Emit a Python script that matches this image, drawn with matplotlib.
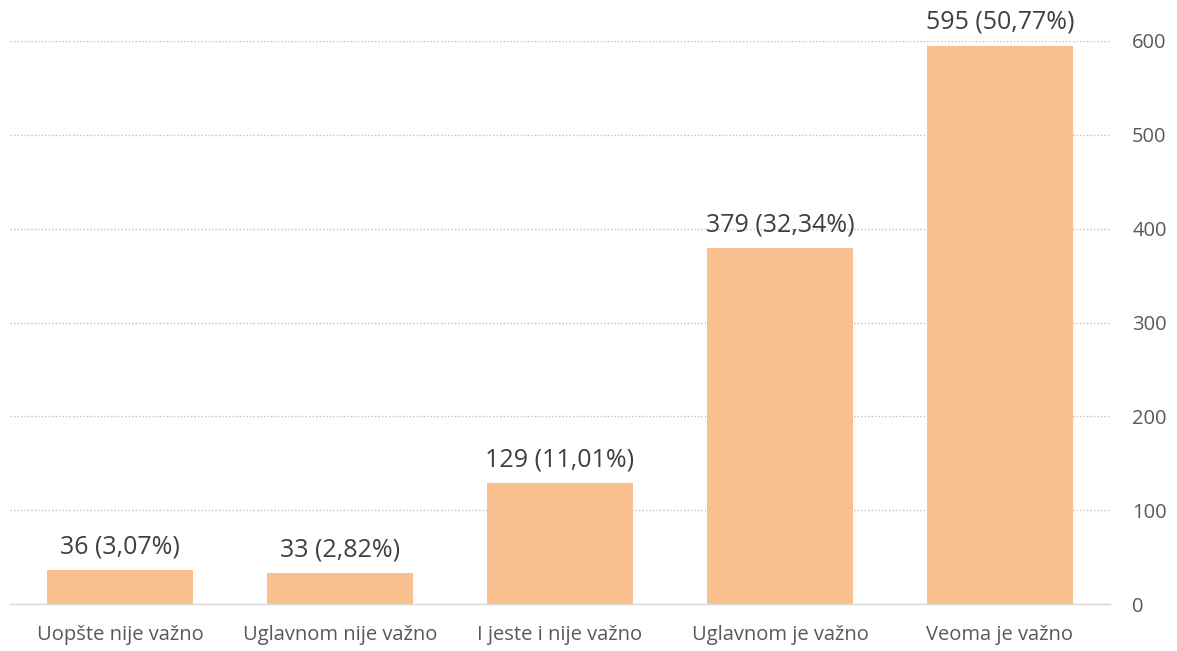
import matplotlib
matplotlib.use("Agg")
import matplotlib.pyplot as plt

categories = ["Uopšte nije važno", "Uglavnom nije važno", "I jeste i nije važno", "Uglavnom je važno", "Veoma je važno"]
counts = [36, 33, 129, 379, 595]
percents = ["3,07%", "2,82%", "11,01%", "32,34%", "50,77%"]
yticks = [0, 100, 200, 300, 400, 500, 600]

plt.rcParams['font.family'] = ['Open Sans', 'DejaVu Sans']

fig = plt.figure(figsize=(11.77, 6.51), dpi=100)
ax = fig.add_axes([10/1177, 1-604/651, (1110-10)/1177, (604-41)/651])

x = range(len(categories))
bars = ax.bar(x, counts, width=0.665, color="#F9C08F", zorder=2)
for xi, c, p in zip(x, counts, percents):
    ax.text(xi, c + 18, f"{c} ({p})", ha="center", va="baseline", fontsize=18, color="#404040")

ax.set_xlim(-0.5, len(categories) - 0.5)
ax.set_ylim(0, 600)
ax.set_yticks(yticks)
ax.yaxis.tick_right()
ax.set_xticks(list(x))
ax.set_xticklabels(categories, fontsize=14.5, color="#595959")
ax.tick_params(axis="y", length=0, pad=16, labelsize=14.5, labelcolor="#595959")
ax.tick_params(axis="x", length=0, pad=15)
ax.grid(axis="y", linestyle=(0, (1, 1.5)), color="#BFBFBF", linewidth=1, zorder=0)
for s in ["top", "right", "left"]:
    ax.spines[s].set_visible(False)
ax.spines["bottom"].set_color("#D9D9D9")
ax.spines["bottom"].set_linewidth(1)

fig.savefig("out.png", dpi=100)
